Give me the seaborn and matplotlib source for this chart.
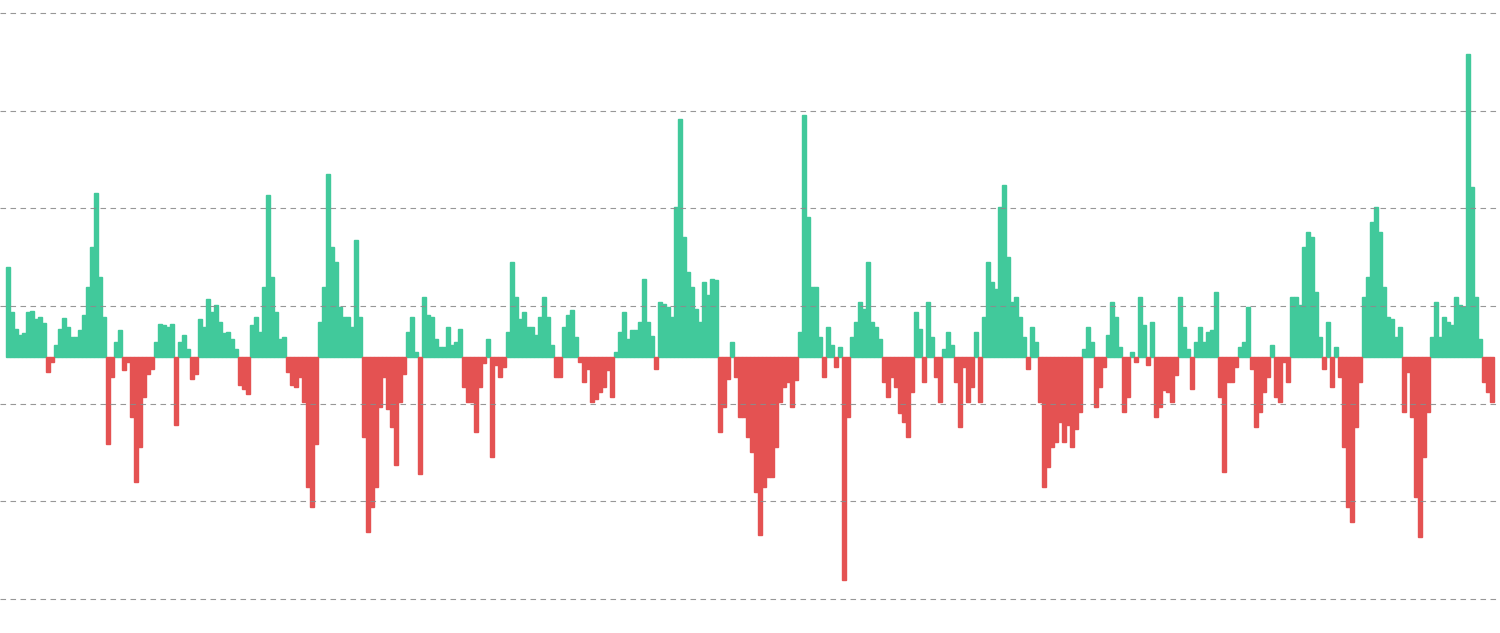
import matplotlib
matplotlib.use("Agg")
import matplotlib.pyplot as plt
import seaborn as sns
import numpy as np
import pandas as pd

# Values (oscillator readings, equally spaced periods)
values = [
    90, 45, 28, 22, 24, 45, 46, 38, 40, 34, -15, -5, 12, 28, 39, 30, 20, 20, 27, 42, 70, 110, 164, 80, 40,
    -87, -20, 15, 27, -13, -5, -60, -125, -90, -40, -17, -12, 15, 33, 32, 30, 33, -68, 15, 22, 8, -22, -17, 38, 30,
    58, 45, 52, 35, 24, 25, 18, 8, -28, -32, -37, 32, 40, 25, 70, 162, 80, 45, 18, 20, -15, -28, -30, -20, -45,
    -130, -150, -87, 35, 70, 183, 110, 95, 50, 40, 40, 30, 117, 40, -80, -175, -150, -130, -50, -20, -52, -70, -108, -45, -17,
    25, 40, 5, -117, 60, 42, 40, 18, 10, 10, 30, 12, 15, 28, -30, -45, -45, -75, -30, -6, 18, -100, -8, -20, -10,
    25, 95, 60, 38, 45, 30, 30, 22, 40, 60, 40, 12, -20, -20, 30, 42, 47, 20, -5, -25, -12, -45, -42, -35, -30,
    -13, -40, 5, 25, 45, 18, 27, 27, 35, 78, 35, 21, -12, 55, 53, 50, 40, 150, 238, 120, 85, 70, 48, 35, 75,
    62, 78, 77, -75, -50, -22, 15, -20, -60, -60, -80, -95, -135, -178, -130, -120, -120, -90, -45, -30, -25, -50, -23, 25, 242,
    140, 70, 70, 20, -20, 30, 12, -10, 10, -223, -60, 20, 35, 55, 48, 95, 35, 30, 18, -25, -40, -20, -30, -56, -65,
    -80, -35, 45, 28, -25, 55, 20, -20, -45, 8, 25, 12, -25, -70, -10, -45, -30, 25, -45, 40, 95, 75, 68, 150, 172,
    100, 55, 60, 40, 20, -12, 30, 15, -45, -130, -110, -90, -85, -65, -85, -68, -90, -72, -55, 8, 30, 15, -50, -30, -10,
    22, 55, 40, 10, -55, -40, 5, -5, 60, 32, -8, 35, -60, -50, -33, -35, -45, -18, 60, 30, 8, -32, 15, 30, 15,
    25, 27, 65, -40, -115, -25, -25, -10, 10, 15, 50, -12, -70, -55, -35, -20, 12, -40, -45, -5, -25, 60, 60, 52, 110,
    125, 120, 65, 20, -12, 35, -30, 10, -20, -90, -150, -165, -70, -25, 60, 80, 135, 150, 125, 70, 40, 38, 20, 30, -55,
    -15, -60, -140, -180, -100, -55, 20, 55, 20, 40, 35, 32, 60, 52, 50, 303, 170, 60, 18, -25, -35, -45,
]

grid_levels = [343.5, 245.8, 148.2, 50.5, -47.2, -144.8, -242.5]

GREEN = "#41c99b"
RED = "#e45252"

df = pd.DataFrame({
    "period": np.arange(len(values)),
    "value": values,
})
df["sign"] = np.where(df["value"] >= 0, "pos", "neg")

sns.set_theme(style="white")
fig = plt.figure(figsize=(15, 6.33), dpi=100)
ax = fig.add_axes([0, 0, 1, 1])

sns.barplot(data=df, x="period", y="value", hue="sign",
            palette={"pos": GREEN, "neg": RED}, dodge=False,
            width=1.0, linewidth=0, saturation=1, legend=False, ax=ax)

for p in ax.patches:
    p.set_edgecolor(p.get_facecolor())
    p.set_linewidth(1.0)
    p.set_joinstyle("miter")

ax.set_xlim(-2, 373)
ax.set_ylim(-276.5, 356.5)
ax.set_yticks(grid_levels)
ax.set_xticks([])
ax.set_yticklabels([])
ax.set_xlabel("")
ax.set_ylabel("")
ax.tick_params(left=False, bottom=False)
for s in ax.spines.values():
    s.set_visible(False)

ax.set_axisbelow(False)
ax.yaxis.grid(True, color="#8c8c8c", linestyle=(0, (5, 4)), linewidth=0.8, alpha=0.9)
ax.xaxis.grid(False)

fig.savefig("out.png", dpi=100, facecolor="white")
